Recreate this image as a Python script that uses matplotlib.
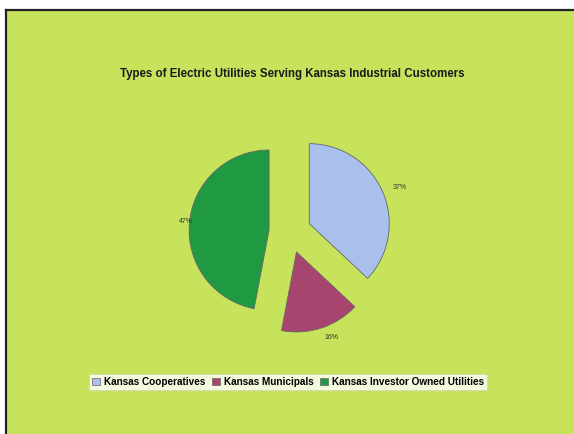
import matplotlib
matplotlib.use("Agg")
import matplotlib.pyplot as plt
from matplotlib.patches import Rectangle, Patch

# ── Data ──────────────────────────────────────────────────────────────────────
CATEGORIES = ["Kansas Cooperatives", "Kansas Municipals",
              "Kansas Investor Owned Utilities"]
SHARES = [37, 16, 47]
COLORS = ["#aac0ec", "#a8456f", "#1f9a42"]
TITLE = "Types of Electric Utilities Serving Kansas Industrial Customers"

BG = "#c6e35b"
W, H = 574, 434

plt.rcParams["font.family"] = ["Liberation Sans", "DejaVu Sans"]

fig = plt.figure(figsize=(W / 100, H / 100), dpi=100)
fig.patch.set_facecolor("white")
ax = fig.add_axes([0, 0, 1, 1])

# green panel with dark frame at top/left (scan look)
ax.add_patch(Rectangle((6, 0), W - 6, H - 10, facecolor=BG,
                       edgecolor="none", zorder=0))
ax.plot([6, 6], [0, H - 10], color="#222222", lw=1.6, zorder=1)
ax.plot([6, W], [H - 10, H - 10], color="#222222", lw=1.6, zorder=1)

# explode is in data units (pixels here), radius 80 px
wedges, texts = ax.pie(
    SHARES, colors=COLORS, startangle=90, counterclock=False,
    center=(290, H - 232), radius=80, explode=[21] * 3,
    labels=[f"{v}%" for v in SHARES], labeldistance=1.13,
    wedgeprops=dict(edgecolor="#666666", linewidth=0.6),
    textprops=dict(fontsize=5, color="#333333"),
    frame=True,
)
ax.set_xlim(0, W)
ax.set_ylim(0, H)
ax.set_aspect("equal")
ax.axis("off")

ax.text(292, H - 74, TITLE, ha="center", va="center",
        fontsize=8.3, fontweight="bold", color="#1a1a1a")

handles = [Patch(facecolor=c, edgecolor="#666666", linewidth=0.5)
           for c in COLORS]
leg = fig.legend(handles, CATEGORIES, ncol=3, loc="center",
                 bbox_to_anchor=(288 / W, 1 - 382 / H),
                 prop=dict(size=7.2, weight="bold"),
                 frameon=True, fancybox=False, handlelength=0.8,
                 handleheight=0.8, handletextpad=0.4, columnspacing=0.6,
                 borderpad=0.3, borderaxespad=0)
leg.get_frame().set_edgecolor("#cccccc")
leg.get_frame().set_linewidth(0.5)

fig.savefig("out.png", dpi=100, facecolor=fig.get_facecolor())
